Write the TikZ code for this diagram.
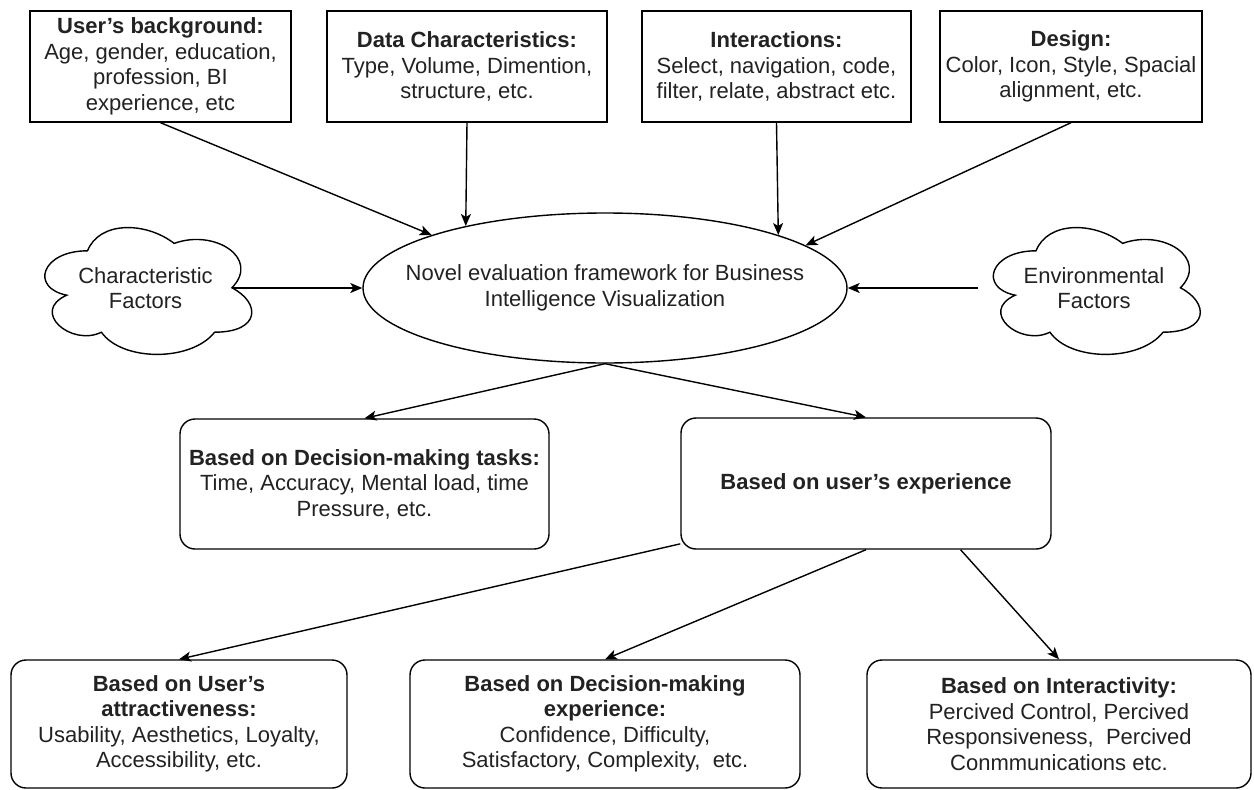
\documentclass[tikz,border=0pt]{standalone}
\usepackage{fontspec}
\setmainfont{Liberation Sans}
\usetikzlibrary{arrows.meta,shapes.geometric,calc}

\definecolor{inkgray}{RGB}{34,34,34}

\tikzset{
  txt/.style={font=\fontsize{22}{25.5}\selectfont, text=inkgray, align=center, inner sep=0pt},
  topbox/.style={txt, draw, line width=1.4pt, minimum height=111pt},
  roundbox/.style={txt, draw, line width=1.4pt, rounded corners=15pt},
  frame/.style={draw, ellipse, line width=1.4pt, inner sep=0pt},
  cloudnode/.style={txt, minimum width=231pt, minimum height=148pt},
  conn/.style={line width=1.4pt, -{Stealth[length=12pt,width=10pt,inset=3pt]}},
  % cloud outline in unit coordinates of its bounding box
  dcloud/.pic={
    \draw[line width=1.4pt]
      (0.25,0.25) .. controls (0.05,0.25) and (0,0.5) .. (0.16,0.55)
      .. controls (0,0.66) and (0.18,0.9) .. (0.31,0.8)
      .. controls (0.4,1) and (0.7,1) .. (0.8,0.8)
      .. controls (1,0.8) and (1,0.6) .. (0.875,0.5)
      .. controls (1,0.3) and (0.8,0.1) .. (0.625,0.2)
      .. controls (0.5,0.05) and (0.3,0.05) .. (0.25,0.25) -- cycle;
  }
}

\begin{document}
\begin{tikzpicture}[x=1pt, y=-1pt]
\path[use as bounding box, fill=white] (0,0) rectangle (1254,790);

% top row of factor boxes
\node[topbox, minimum width=261pt] (bg) at (160.5,66.5)
  {\textbf{User's background:}\\Age, gender, education,\\profession, BI\\experience, etc};
\node[topbox, minimum width=280pt] (dc) at (467,66.5)
  {\textbf{Data Characteristics:}\\Type, Volume, Dimention,\\structure, etc.};
\node[topbox, minimum width=269pt] (ia) at (776.5,66.5)
  {\textbf{Interactions:}\\Select, navigation, code,\\filter, relate, abstract etc.};
\node[topbox, minimum width=262pt] (ds) at (1071,66.5)
  {\textbf{Design:}\\Color, Icon, Style, Spacial\\alignment, etc.};

% central framework ellipse
\node[frame, minimum width=484pt, minimum height=150pt] (nef) at (605,288) {};
\node[txt] (neft) at (nef.center) {Novel evaluation framework for Business\\Intelligence Visualization};

% side clouds
\node[cloudnode] (clL) at (145.5,288) {Characteristic\\Factors};
\pic[shift={(clL.north west)}, x={(231pt,0pt)}, y={(0pt,-148pt)}] {dcloud};
\coordinate (clLport) at ($(clL.west)!0.875!(clL.east)$);

\node[cloudnode] (clR) at (1094,288) {Environmental\\Factors};
\pic[shift={(clR.north west)}, x={(231pt,0pt)}, y={(0pt,-148pt)}] {dcloud};

% evaluation branches
\node[roundbox, minimum width=369pt, minimum height=130pt] (dm) at (364.5,484)
  {\textbf{Based on Decision-making tasks:}\\Time, Accuracy, Mental load, time\\Pressure, etc.};
\node[roundbox, minimum width=370pt, minimum height=131pt] (ux) at (866,483.5)
  {\textbf{Based on user's experience}};

\node[roundbox, minimum width=336pt, minimum height=128pt] (ua) at (179,724)
  {\textbf{Based on User's}\\\textbf{attractiveness:}\\Usability, Aesthetics, Loyalty,\\Accessibility, etc.};
\node[roundbox, minimum width=390pt, minimum height=128pt] (de) at (605,724)
  {\textbf{Based on Decision-making}\\\textbf{experience:}\\Confidence, Difficulty,\\Satisfactory, Complexity,\ \ etc.};
\node[roundbox, minimum width=384pt, minimum height=128pt] (iv) at (1059,724)
  {\textbf{Based on Interactivity:}\\Percived Control, Percived\\Responsiveness,\ \ Percived\\Conmmunications etc.};

% connectors
\draw[conn] (bg.south) -- (nef.163);
\draw[conn] (dc.south) -- (nef.156);
\draw[conn] (ia.south) -- (nef.17);
\draw[conn] (ds.south) -- (nef.12);
\draw[conn] (clLport) -- (nef.west);
\draw[conn] (clR.west) -- (nef.east);
\draw[conn] (nef.south) -- (dm.north);
\draw[conn] (nef.south) -- (ux.north);
\draw[conn] (ux.198) -- (ua.north);
\draw[conn] (ux.south) -- (de.north);
\draw[conn] (ux.-35) -- (iv.north);
\end{tikzpicture}
\end{document}
